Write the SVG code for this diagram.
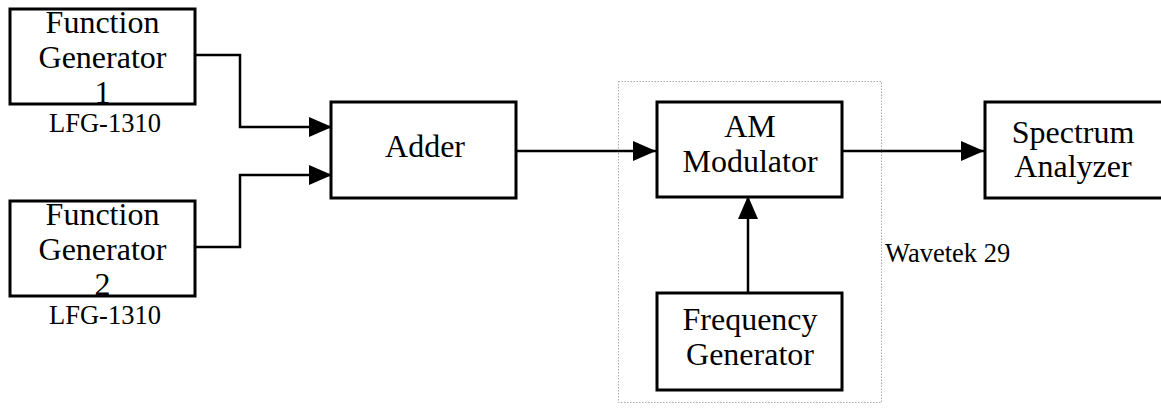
<svg xmlns="http://www.w3.org/2000/svg" width="1161" height="413" viewBox="0 0 1161 413">
<style>
.box{fill:#fff;stroke:#000;stroke-width:3}
.t{font-family:"Liberation Serif","Times New Roman",serif;font-size:32px;fill:#000;text-anchor:middle}
.s{font-family:"Liberation Serif","Times New Roman",serif;font-size:26.5px;fill:#000}
.c{fill:none;stroke:#000;stroke-width:2.5}
.frame{fill:none;stroke:#aaa;stroke-width:1;stroke-dasharray:1.5 1.5}
</style>
<defs>
<marker id="ah" viewBox="0 0 23 20" refX="23" refY="10" markerWidth="23" markerHeight="20" markerUnits="userSpaceOnUse" orient="auto">
<path d="M0,0 L23,10 L0,20 Z" fill="#000"/>
</marker>
</defs>
<rect width="1161" height="413" fill="#fff"/>
<g id="wavetek">
<rect class="frame" x="618.5" y="81.5" width="263" height="321"/>
<text class="s" x="885" y="262">Wavetek 29</text>
</g>
<g id="connectors">
<path class="c" d="M195,55 H240 V127 H332" marker-end="url(#ah)"/>
<path class="c" d="M195,247 H240 V175 H332" marker-end="url(#ah)"/>
<path class="c" d="M516,151 H656" marker-end="url(#ah)"/>
<path class="c" d="M842,151 H984" marker-end="url(#ah)"/>
<path class="c" d="M748,293 V196" marker-end="url(#ah)"/>
</g>
<g id="fg1">
<rect class="box" x="10" y="9" width="185" height="95"/>
<text class="t" x="102.5" y="33">Function</text>
<text class="t" x="102.5" y="68">Generator</text>
<text class="t" x="102.5" y="103">1</text>
<text class="s" x="105" y="132" text-anchor="middle">LFG-1310</text>
</g>
<g id="fg2">
<rect class="box" x="10" y="201" width="185" height="95"/>
<text class="t" x="102.5" y="225">Function</text>
<text class="t" x="102.5" y="260">Generator</text>
<text class="t" x="102.5" y="295">2</text>
<text class="s" x="105" y="324" text-anchor="middle">LFG-1310</text>
</g>
<g id="adder">
<rect class="box" x="331" y="102" width="185" height="96"/>
<text class="t" x="425" y="157">Adder</text>
</g>
<g id="am">
<rect class="box" x="657" y="102" width="185" height="95"/>
<text class="t" x="750" y="137">AM</text>
<text class="t" x="750" y="172">Modulator</text>
</g>
<g id="freqgen">
<rect class="box" x="657" y="293" width="185" height="97"/>
<text class="t" x="750" y="330">Frequency</text>
<text class="t" x="750" y="365">Generator</text>
</g>
<g id="spectrum">
<rect class="box" x="985" y="102" width="178" height="96"/>
<text class="t" x="1073" y="143">Spectrum</text>
<text class="t" x="1073" y="177">Analyzer</text>
</g>
</svg>
